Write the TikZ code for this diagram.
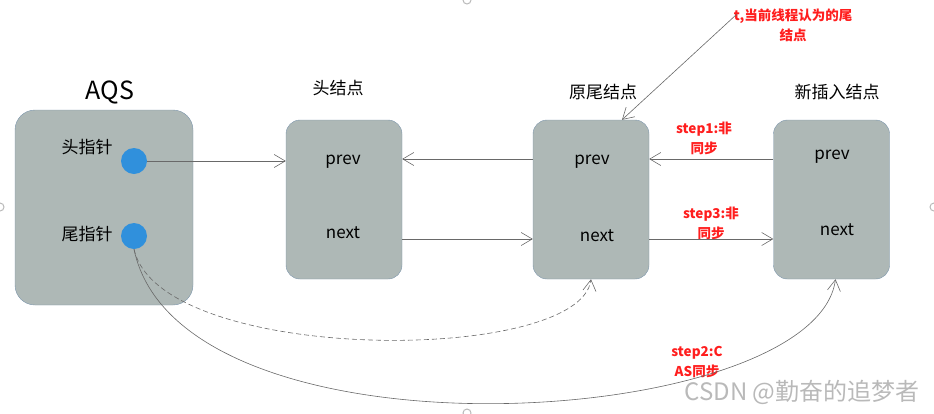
\documentclass[tikz,border=0pt]{standalone}
\usepackage{fontspec}
\setmainfont{Noto Sans CJK SC}
\usetikzlibrary{arrows.meta, positioning}
\definecolor{boxgray}{RGB}{174,184,182}
\definecolor{boxline}{RGB}{125,150,172}
\definecolor{dotblue}{RGB}{48,144,220}
\definecolor{linkgray}{RGB}{105,105,105}
\definecolor{notered}{RGB}{255,30,30}

\begin{document}
\begin{tikzpicture}[x=1pt, y=-1pt,
  box/.style={rectangle, draw=boxline, fill=boxgray, rounded corners=14pt, minimum width=116pt, minimum height=159pt, inner sep=0pt},
  field/.style={font=\fontsize{17}{19}\selectfont},
  note/.style={text=notered, align=center, font=\fontsize{13.5}{20}\selectfont\bfseries},
  ptr/.style={circle, fill=dotblue, minimum size=26pt, inner sep=0pt},
  link/.style={draw=linkgray, line width=0.6pt, -{Straight Barb[length=11pt, width=13pt]}}]
\useasboundingbox (0,0) rectangle (934,413);

% canvas handles
\foreach \hx/\hy in {467/0, 0/207, 934/207, 467/413}
  \draw[gray!55, line width=1pt] (\hx,\hy) circle (4pt);

% AQS with its two pointers
\node[box, minimum width=178pt, minimum height=195pt, rounded corners=20pt] (aqs) at (104,207.5) {};
\node[font=\fontsize{25}{27}\selectfont] (aqstitle) at (110,92) {AQS};
\node[field] (hptrlabel) at (87,147) {头指针};
\node[field] (tptrlabel) at (87,234) {尾指针};
\node[ptr] (hdot) at (134,161) {};
\node[ptr] (tdot) at (134,236) {};

% queue nodes
\node[box] (head) at (344,199.5) {};
\node[field] (headtitle) at (338,88) {头结点};
\node[field] (headprev) at (343,162) {prev};
\node[field] (headnext) at (343,233) {next};

\node[box] (oldtail) at (591,199.5) {};
\node[field] (oldtitle) at (603,92) {原尾结点};
\node[field] (oldprev) at (592,162) {prev};
\node[field] (oldnext) at (597,236) {next};

\node[box] (newnode) at (831.5,199.5) {};
\node[field] (newtitle) at (837,92) {新插入结点};
\node[field] (newprev) at (832,157) {prev};
\node[field] (newnext) at (837,230) {next};

% notes
\node[note] (tnote) at (793,25) {t,当前线程认为的尾\\结点};
\node[note] (step1) at (704,138) {step1:非\\同步};
\node[note] (step3) at (711,223) {step3:非\\同步};
\node[note] (step2) at (697,362) {step2:C\\AS同步};
\coordinate (tstart) at (737,14);

% links
\draw[link] (hdot.east) -- (hdot -| head.west);
\draw[link] ([yshift=40.5pt]oldtail.west) -- ([yshift=40.5pt]head.east);
\draw[link] ([yshift=-39.5pt]head.east) -- ([yshift=-39.5pt]oldtail.west);
\draw[link] ([yshift=40.5pt]newnode.west) -- ([yshift=40.5pt]oldtail.east);
\draw[link] ([yshift=-39.5pt]oldtail.east) -- ([yshift=-39.5pt]newnode.west);
\draw[link] (tstart) -- ([xshift=31pt]oldtail.north);
\draw[link, dash pattern=on 5pt off 3pt] (tdot.south) .. controls (160,365) and (580,365) .. (oldtail.south);
\draw[link] (tdot.south) .. controls (180,470) and (815,430) .. ([xshift=4pt]newnode.south);

% watermark
\node[text=gray!55, font=\fontsize{24}{26}\selectfont] (mark) at (802,392) {CSDN @勤奋的追梦者};
\end{tikzpicture}
\end{document}
